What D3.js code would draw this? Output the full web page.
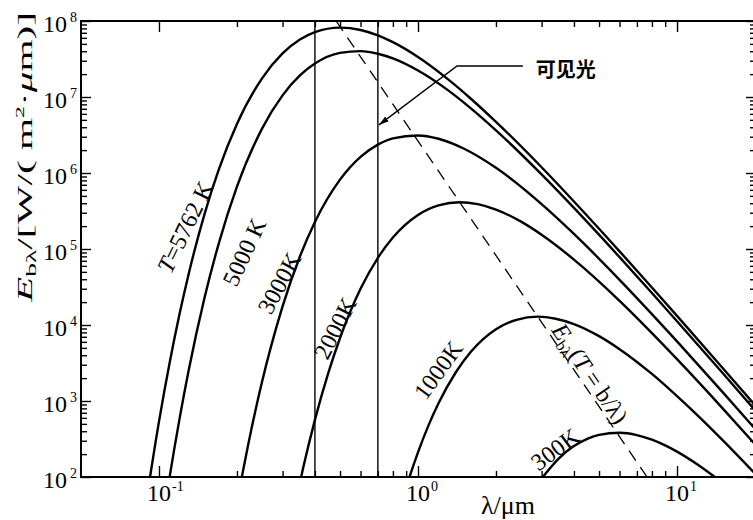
<!DOCTYPE html>
<html>
<head>
<meta charset="utf-8">
<script src="https://cdn.jsdelivr.net/npm/d3@7/dist/d3.min.js"></script>
<style>
body { margin: 0; background: #fff; }
text { font-family: "Liberation Serif", "Times New Roman", serif; fill: #000; }
</style>
</head>
<body>
<script>
// wavelength (um) / spectral emissive power E_b,lambda [W/(m2.um)]
var lam5762 = [0.09, 0.1, 0.11, 0.12, 0.13, 0.15, 0.17, 0.2, 0.25, 0.3, 0.35, 0.4, 0.5, 0.6, 0.7, 0.8, 1.0, 1.3, 1.6, 2, 3, 4, 6, 8, 10, 15, 20];
var eb5762  = [56.6, 536, 3.21e3, 1.38e4, 4.59e4, 2.90e5, 1.10e6, 4.42e6, 1.76e7, 3.74e7, 5.69e7, 7.12e7, 8.17e7, 7.62e7, 6.47e7, 5.27e7, 3.36e7, 1.73e7, 9.49e6, 4.71e6, 1.19e6, 4.22e5, 9.32e4, 3.12e4, 1.32e4, 2.72e3, 880];

var lam5000 = [0.1, 0.11, 0.12, 0.13, 0.15, 0.17, 0.2, 0.25, 0.3, 0.35, 0.4, 0.5, 0.6, 0.7, 0.8, 1.0, 1.3, 1.6, 2, 3, 4, 6, 8, 10, 15, 20];
var eb5000  = [11.9, 101, 578, 2.46e3, 2.30e4, 1.17e5, 6.60e5, 3.84e6, 1.05e7, 1.92e7, 2.75e7, 3.80e7, 4.01e7, 3.71e7, 3.22e7, 2.23e7, 1.24e7, 7.08e6, 3.64e6, 9.57e5, 3.47e5, 7.82e4, 2.64e4, 1.12e4, 2.33e3, 756];

var lam3000 = [0.2, 0.21, 0.22, 0.25, 0.27, 0.3, 0.35, 0.4, 0.5, 0.6, 0.7, 0.8, 1.0, 1.2, 1.5, 2, 3, 4, 6, 8, 10, 15, 20];
var eb3000  = [45.0, 110, 247, 1.79e3, 5.03e3, 1.76e4, 7.97e4, 2.27e5, 8.18e5, 1.63e6, 2.36e6, 2.85e6, 3.12e6, 2.82e6, 2.10e6, 1.17e6, 3.90e5, 1.58e5, 3.93e4, 1.39e4, 6.08e3, 1.31e3, 432];

var lam2000 = [0.35, 0.36, 0.4, 0.45, 0.5, 0.6, 0.7, 0.8, 1.0, 1.2, 1.45, 1.7, 2, 2.5, 3, 4, 6, 8, 10, 15, 20];
var eb2000  = [84.4, 130, 565, 2.31e3, 6.75e3, 2.99e4, 7.66e4, 1.42e5, 2.81e5, 3.76e5, 4.12e5, 3.89e5, 3.30e5, 2.29e5, 1.54e5, 7.25e4, 2.08e4, 7.83e3, 3.55e3, 801, 270];

var lam1000 = [0.9, 0.95, 1.0, 1.1, 1.2, 1.4, 1.6, 2, 2.4, 2.9, 3.4, 4, 5, 6, 8, 10, 12, 15, 20];
var eb1000  = [72.3, 128, 211, 485, 933, 2.39e3, 4.44e3, 8.79e3, 1.17e4, 1.29e4, 1.21e4, 1.03e4, 7.14e3, 4.81e3, 2.27e3, 1.16e3, 649, 306, 111];

var lam300 = [3, 3.5, 4, 4.5, 5, 6, 7, 8, 9, 10, 12, 14];
var eb300  = [95.4, 176, 255, 318, 359, 382, 356, 310, 261, 216, 146, 99.8];

// locus of the maxima, E_b,lambda(T = b/lambda): end points on the frame
var lamPeak = [0.483, 7.66];
var ebPeak  = [1e8, 1e2];

// visible band limits (um)
var visible = [0.4, 0.7];

// ticks
var xMajor = [0.1, 1, 10];
var xMinor = [0.2, 0.3, 0.4, 0.5, 0.6, 0.7, 0.8, 0.9, 2, 3, 4, 5, 6, 7, 8, 9];
var xTickExp = [-1, 0, 1];
var yTickExp = [2, 3, 4, 5, 6, 7, 8];

var width = 753, height = 520;
var x = d3.scaleLog().domain([0.05, 20]).range([81, 755]);
var y = d3.scaleLog().domain([1e2, 1e8]).range([477, 21]);

var yMajor = yTickExp.map(function(p) { return Math.pow(10, p); });
var yMinor = [];
for (var p = 2; p < 8; p++) {
    for (var m = 2; m <= 9; m++) yMinor.push(m * Math.pow(10, p));
}

var svg = d3.select("body").append("svg")
    .attr("width", width)
    .attr("height", height);

svg.append("defs").append("clipPath").attr("id", "plot")
    .append("rect")
    .attr("x", x.range()[0]).attr("y", y.range()[1])
    .attr("width", x.range()[1] - x.range()[0])
    .attr("height", y.range()[0] - y.range()[1]);

var marker = svg.select("defs").append("marker")
    .attr("id", "arrow")
    .attr("viewBox", "0 0 10 6")
    .attr("refX", 10).attr("refY", 3)
    .attr("markerWidth", 10).attr("markerHeight", 6)
    .attr("markerUnits", "userSpaceOnUse")
    .attr("orient", "auto");
marker.append("path").attr("d", "M0,0 L10,3 L0,6 Z").attr("fill", "#000");

var plot = svg.append("g").attr("clip-path", "url(#plot)");

// visible band
plot.selectAll("line.vis")
    .data(visible)
    .enter()
    .append("line")
    .classed("vis", true)
    .attr("x1", function(d) { return x(d); })
    .attr("x2", function(d) { return x(d); })
    .attr("y1", y(1e2))
    .attr("y2", y(1e8))
    .attr("stroke", "#000")
    .attr("stroke-width", 1.4);

// curves
var series = [
    {lam: lam5762, eb: eb5762},
    {lam: lam5000, eb: eb5000},
    {lam: lam3000, eb: eb3000},
    {lam: lam2000, eb: eb2000},
    {lam: lam1000, eb: eb1000},
    {lam: lam300, eb: eb300}
];

var line = d3.line()
    .x(function(d) { return x(d[0]); })
    .y(function(d) { return y(d[1]); })
    .curve(d3.curveMonotoneX);

plot.selectAll("path.curve")
    .data(series)
    .enter()
    .append("path")
    .classed("curve", true)
    .attr("d", function(s) { return line(d3.zip(s.lam, s.eb)); })
    .attr("fill", "none")
    .attr("stroke", "#000")
    .attr("stroke-width", 2.4);

// dashed maximum locus
plot.append("path")
    .attr("d", d3.line().x(function(d) { return x(d[0]); }).y(function(d) { return y(d[1]); })(d3.zip(lamPeak, ebPeak)))
    .attr("fill", "none")
    .attr("stroke", "#000")
    .attr("stroke-width", 1.3)
    .attr("stroke-dasharray", "12,8");

// axes (ticks point inwards)
function tickAxis(axisFn, values, size, transform) {
    svg.append("g")
        .attr("transform", transform)
        .call(axisFn.tickValues(values).tickSize(-size).tickSizeOuter(0).tickFormat(""))
        .call(function(g) { g.select(".domain").remove(); })
        .selectAll("line").attr("stroke", "#000").attr("stroke-width", 1.4);
}
tickAxis(d3.axisBottom(x), xMinor, 6, "translate(0," + y(1e2) + ")");
tickAxis(d3.axisBottom(x), xMajor, 11, "translate(0," + y(1e2) + ")");
tickAxis(d3.axisTop(x), xMinor, 6, "translate(0," + y(1e8) + ")");
tickAxis(d3.axisTop(x), xMajor, 11, "translate(0," + y(1e8) + ")");
tickAxis(d3.axisLeft(y), yMinor, 6, "translate(" + x(0.05) + ",0)");
tickAxis(d3.axisLeft(y), yMajor, 10, "translate(" + x(0.05) + ",0)");
tickAxis(d3.axisRight(y), yMinor, 5, "translate(" + x(20) + ",0)");
tickAxis(d3.axisRight(y), yMajor, 9, "translate(" + x(20) + ",0)");

svg.append("rect")
    .attr("x", x(0.05)).attr("y", y(1e8))
    .attr("width", x(20) - x(0.05))
    .attr("height", y(1e2) - y(1e8))
    .attr("fill", "none")
    .attr("stroke", "#000")
    .attr("stroke-width", 2);

// tick labels
xTickExp.forEach(function(p) {
    var xx = x(Math.pow(10, p));
    svg.append("text").attr("x", xx).attr("y", 501)
        .attr("text-anchor", "middle").style("font-size", "24px").text("10");
    svg.append("text").attr("x", xx + 13).attr("y", 491)
        .style("font-size", "14px").text(p);
});
yTickExp.forEach(function(p) {
    var yy = y(Math.pow(10, p));
    svg.append("text").attr("x", 67).attr("y", yy + 11)
        .attr("text-anchor", "end").style("font-size", "24px").text("10");
    svg.append("text").attr("x", 70).attr("y", yy + 1)
        .style("font-size", "14px").text(p);
});

// axis titles
svg.append("text")
    .attr("x", 508).attr("y", 514)
    .attr("text-anchor", "middle")
    .style("font-size", "26px")
    .text("λ/μm");

var yt = svg.append("text")
    .attr("transform", "translate(32,157) rotate(-90)")
    .attr("text-anchor", "middle")
    .attr("textLength", 290)
    .attr("lengthAdjust", "spacingAndGlyphs")
    .style("font-size", "21px");
yt.append("tspan").style("font-style", "italic").text("E");
yt.append("tspan").attr("dy", 4).style("font-size", "14px").text("bλ");
yt.append("tspan").attr("dy", -4).text("/[W/( m");
yt.append("tspan").attr("dy", -8).style("font-size", "12px").text("2");
yt.append("tspan").attr("dy", 8).text("·");
yt.append("tspan").style("font-style", "italic").text("μ");
yt.append("tspan").text("m)]");

// curve labels (anchor in data units, angle in degrees)
var curveLabels = [
    {lam: 0.126, eb: 1.95e5, angle: -64, t: "T", rest: "=5762 K"},
    {lam: 0.213, eb: 9.1e4, angle: -65, t: "", rest: "5000 K"},
    {lam: 0.291, eb: 3.57e4, angle: -61.5, t: "", rest: "3000K"},
    {lam: 0.478, eb: 9.1e3, angle: -63, t: "", rest: "2000K"},
    {lam: 1.195, eb: 2.56e3, angle: -54, t: "", rest: "1000K"},
    {lam: 3.38, eb: 233, angle: -36.5, t: "", rest: "300K"}
];
curveLabels.forEach(function(d) {
    var t = svg.append("text")
        .attr("transform", "translate(" + x(d.lam) + "," + y(d.eb) + ") rotate(" + d.angle + ")")
        .attr("text-anchor", "middle")
        .attr("dy", "0.35em")
        .style("font-size", "24px");
    if (d.t) t.append("tspan").style("font-style", "italic").text(d.t);
    t.append("tspan").text(d.rest);
});

// label on the dashed locus
var p0 = [x(lamPeak[0]), y(ebPeak[0])], p1 = [x(lamPeak[1]), y(ebPeak[1])];
var ang = Math.atan2(p1[1] - p0[1], p1[0] - p0[0]) * 180 / Math.PI;
var dl = svg.append("text")
    .attr("transform", "translate(" + x(4.25) + "," + y(1.9e3) + ") rotate(" + ang + ")")
    .attr("text-anchor", "middle")
    .attr("dy", -3)
    .style("font-size", "24px");
dl.append("tspan").style("font-style", "italic").text("E");
dl.append("tspan").attr("dy", 5).style("font-size", "16px").text("bλ");
dl.append("tspan").attr("dy", -5).text("(");
dl.append("tspan").style("font-style", "italic").text("T");
dl.append("tspan").text(" = b/λ)");

// visible-light callout
var callout = [[2.54, 2.56e7], [1.415, 2.56e7], [0.707, 4.29e6]];
svg.append("path")
    .attr("d", d3.line().x(function(d) { return x(d[0]); }).y(function(d) { return y(d[1]); })(callout))
    .attr("fill", "none")
    .attr("stroke", "#000")
    .attr("stroke-width", 1.4)
    .attr("marker-end", "url(#arrow)");
svg.append("text")
    .attr("x", x(2.85)).attr("y", y(2.26e7))
    .attr("dy", "0.35em")
    .style("font-family", "'Noto Sans CJK SC', sans-serif")
    .style("font-weight", "bold")
    .style("font-size", "20px")
    .text("可见光");
</script>
</body>
</html>
